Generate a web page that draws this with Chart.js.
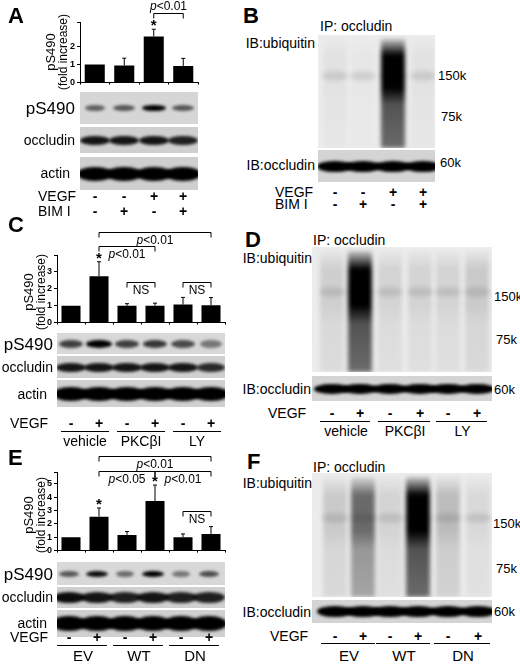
<!DOCTYPE html>
<html>
<head>
<meta charset="utf-8">
<script src="https://cdn.jsdelivr.net/npm/chart.js@4.4.1/dist/chart.umd.min.js"></script>
<style>
  body { margin: 0; background: #fff; font-family: "Liberation Sans", Arial, sans-serif; }
  #page { position: relative; width: 520px; height: 665px; overflow: hidden; }
  .t { position: absolute; white-space: nowrap; color: #000; line-height: 1; z-index: 2; }
  .blot { position: absolute; overflow: hidden; }
  .band { position: absolute; border-radius: 50%; background: #000; filter: blur(1.5px); }
  .smear { position: absolute; filter: blur(2px); }
  .uline { position: absolute; height: 1px; background: #000; }
</style>
</head>
<body>
<div id="page"></div>
<script>
// ---- data -----------------------------------------------------------------
const lanesA = ['1', '2', '3', '4'];
const valuesA = [1.0, 0.95, 2.55, 0.92];
const errorsA = [0, 0.4, 0.4, 0.42];
const starsA = [false, false, true, false];
const bracketsA = [{ from: 2, to: 3, y: 3.84, label: 'p<0.01', above: true }];

const lanesC = ['1', '2', '3', '4', '5', '6'];
const valuesC = [1.0, 2.75, 1.0, 1.0, 1.07, 1.03];
const errorsC = [0, 0.85, 0.12, 0.15, 0.42, 0.45];
const starsC = [false, true, false, false, false, false];
const bracketsC = [
    { from: 1, to: 5, y: 5.37, label: 'p<0.01' },
    { from: 1, to: 3, y: 4.52, label: 'p<0.01' },
    { from: 2, to: 3, y: 2.43, label: 'NS' },
    { from: 4, to: 5, y: 2.43, label: 'NS' }
];

const lanesE = ['1', '2', '3', '4', '5', '6'];
const valuesE = [1.0, 2.55, 1.18, 3.72, 1.0, 1.25];
const errorsE = [0, 0.65, 0.25, 1.2, 0.25, 0.55];
const starsE = [false, true, false, true, false, false];
const bracketsE = [
    { from: 1, to: 5, y: 7.13, label: 'p<0.01' },
    { from: 1, to: 3, y: 6.01, label: 'p<0.05' },
    { from: 3, to: 5, y: 6.01, label: 'p<0.01' },
    { from: 4, to: 5, y: 3.0, label: 'NS' }
];

// band intensities per lane
const pS490A = [0.55, 0.6, 1.0, 0.6];
const pS490C = [0.7, 1.0, 0.7, 0.75, 0.65, 0.45];
const pS490E = [0.6, 0.95, 0.5, 1.0, 0.45, 0.65];
const ubiqB = [0.04, 0.02, 1.0, 0.04];
const ubiqD = [0.12, 1.0, 0.1, 0.1, 0.1, 0.14];
const ubiqF = [0.14, 0.55, 0.1, 1.0, 0.2, 0.08];

const page = document.getElementById('page');

function text(str, x, y, size, opts = {}) {
    const d = document.createElement('div');
    d.className = 't';
    d.innerHTML = str;
    d.style.left = x + 'px';
    d.style.top = y + 'px';
    d.style.fontSize = size + 'px';
    if (opts.bold) d.style.fontWeight = 'bold';
    const tx = opts.align === 'right' ? '-100%' : opts.align === 'center' ? '-50%' : '0';
    d.style.transform = `translate(${tx}, -50%)` + (opts.rotate ? ' rotate(-90deg)' : '');
    page.appendChild(d);
    return d;
}

function line(x1, x2, y) {
    const d = document.createElement('div');
    d.className = 'uline';
    d.style.left = x1 + 'px';
    d.style.width = (x2 - x1) + 'px';
    d.style.top = y + 'px';
    page.appendChild(d);
}

function blot(x, y, w, h, lanes, levels, bg, bandH, bandW) {
    const b = document.createElement('div');
    b.className = 'blot';
    Object.assign(b.style, { left: x + 'px', top: y + 'px', width: w + 'px', height: h + 'px', background: bg });
    lanes.forEach((lx, i) => {
        const s = document.createElement('div');
        s.className = 'band';
        const bw = bandW * (0.75 + 0.35 * levels[i]);
        Object.assign(s.style, {
            left: (lx - x - bw / 2) + 'px', width: bw + 'px',
            top: (h / 2 - bandH / 2) + 'px', height: bandH + 'px',
            opacity: levels[i]
        });
        b.appendChild(s);
    });
    page.appendChild(b);
}

function smearBlot(x, y, w, h, lanes, levels) {
    const b = document.createElement('div');
    b.className = 'blot';
    Object.assign(b.style, { left: x + 'px', top: y + 'px', width: w + 'px', height: h + 'px', background: '#ececec' });
    lanes.forEach((lx, i) => {
        const s = document.createElement('div');
        s.className = 'smear';
        const a = levels[i];
        Object.assign(s.style, {
            left: (lx - x - 12) + 'px', width: '24px', top: '4px', height: (h - 4) + 'px',
            background: `linear-gradient(to bottom, rgba(0,0,0,${0.15 * a}) 0%, rgba(0,0,0,${a}) 15%, rgba(0,0,0,${a}) 45%, rgba(0,0,0,${0.65 * a}) 60%, rgba(0,0,0,${0.55 * a}) 100%)`
        });
        b.appendChild(s);
        const faint = document.createElement('div');
        faint.className = 'smear';
        Object.assign(faint.style, {
            left: (lx - x - 13) + 'px', width: '26px', top: (h * 0.32) + 'px', height: '10px',
            background: 'rgba(0,0,0,0.1)', borderRadius: '50%'
        });
        b.appendChild(faint);
    });
    page.appendChild(b);
}

// ---- error bars, stars and brackets ---------------------------------------
const annotPlugin = {
    id: 'annot',
    afterDatasetsDraw(chart, args, opts) {
        const { ctx, scales: { x, y } } = chart;
        ctx.save();
        ctx.strokeStyle = '#000';
        ctx.fillStyle = '#000';
        ctx.lineWidth = 1;
        opts.values.forEach((v, i) => {
            const px = x.getPixelForValue(i);
            const top = y.getPixelForValue(v + opts.errors[i]);
            if (opts.errors[i] > 0) {
                ctx.beginPath();
                ctx.moveTo(px, y.getPixelForValue(v));
                ctx.lineTo(px, top);
                ctx.moveTo(px - 2, top);
                ctx.lineTo(px + 2, top);
                ctx.stroke();
            }
            if (opts.stars[i]) {
                ctx.font = 'bold 15px "Liberation Sans", Arial';
                ctx.textAlign = 'center';
                ctx.textBaseline = 'alphabetic';
                ctx.fillText('*', px, top + 1);
            }
        });
        opts.brackets.forEach(b => {
            const x1 = x.getPixelForValue(b.from), x2 = x.getPixelForValue(b.to);
            const py = Math.round(y.getPixelForValue(b.y)) + 0.5;
            ctx.beginPath();
            ctx.moveTo(x1, py + 5);
            ctx.lineTo(x1, py);
            ctx.lineTo(x2, py);
            ctx.lineTo(x2, py + 5);
            ctx.stroke();
            const cx = (x1 + x2) / 2;
            ctx.textBaseline = b.above ? 'bottom' : 'top';
            const ty = b.above ? py - 1 : py + 2;
            if (b.label.startsWith('p')) {
                const rest = b.label.slice(1);
                ctx.font = '12px "Liberation Sans", Arial';
                const wr = ctx.measureText(rest).width;
                ctx.font = 'italic 12px "Liberation Sans", Arial';
                const wp = ctx.measureText('p').width;
                const sx = cx - (wr + wp) / 2;
                ctx.textAlign = 'left';
                ctx.fillText('p', sx, ty);
                ctx.font = '12px "Liberation Sans", Arial';
                ctx.fillText(rest, sx + wp, ty);
            } else {
                ctx.font = '12px "Liberation Sans", Arial';
                ctx.textAlign = 'center';
                ctx.fillText(b.label, cx, ty);
            }
        });
        ctx.restore();
    }
};

function barChart(canvasLeft, canvasTop, w, h, pad, labels, values, errors, stars, brackets, yMax, showMax) {
    const wrap = document.createElement('div');
    Object.assign(wrap.style, { position: 'absolute', left: canvasLeft + 'px', top: canvasTop + 'px', width: w + 'px', height: h + 'px' });
    const c = document.createElement('canvas');
    wrap.appendChild(c);
    page.appendChild(wrap);
    return new Chart(c.getContext('2d'), {
        type: 'bar',
        data: {
            labels: labels,
            datasets: [{ data: values, backgroundColor: '#000', borderWidth: 0, barPercentage: 0.68, categoryPercentage: 1 }]
        },
        options: {
            responsive: true,
            maintainAspectRatio: false,
            animation: false,
            layout: { padding: pad },
            plugins: {
                legend: { display: false },
                tooltip: { enabled: false },
                annot: { values, errors, stars, brackets }
            },
            scales: {
                x: {
                    ticks: { display: false },
                    grid: { display: true, drawOnChartArea: false, tickLength: 2, color: '#000', offset: true },
                    border: { color: '#000', width: 1 },
                    afterFit: s => { s.height = 2; }
                },
                y: {
                    min: 0,
                    max: yMax,
                    ticks: {
                        stepSize: 1,
                        color: '#000',
                        padding: 2,
                        font: { size: 9, weight: 'bold', family: '"Liberation Sans", Arial' },
                        callback: v => (v <= showMax ? v : '')
                    },
                    grid: { display: true, drawOnChartArea: false, tickLength: 3, color: '#000' },
                    border: { color: '#000', width: 1 },
                    afterFit: s => { s.width = 40; }
                }
            }
        },
        plugins: [annotPlugin]
    });
}

// ---- panel A ----------------------------------------------------------------
text('A', 8, 16, 22, { bold: true });
barChart(0, 0, 210, 90, { left: 40, top: 22, bottom: 2, right: 12 }, lanesA, valuesA, errorsA, starsA, bracketsA, 3.35, 3);
text('pS490', 50, 52, 13, { align: 'center', rotate: true });
text('(fold increase)', 63, 52, 12, { align: 'center', rotate: true });
const lanesAx = [95, 124, 154, 183];
blot(80, 92, 118, 32, lanesAx, pS490A, '#d6d6d6', 6, 22);
blot(80, 127, 118, 26, lanesAx, [0.9, 0.9, 0.9, 0.85], '#cfcfcf', 9, 28);
blot(80, 157, 118, 33, lanesAx, [1, 1, 1, 1], '#cfcfcf', 14, 32);
text('pS490', 75, 108, 17, { align: 'right' });
text('occludin', 75, 140, 14, { align: 'right' });
text('actin', 70, 173, 14, { align: 'right' });
text('VEGF', 38, 196, 14);
text('BIM I', 38, 211, 14);
['-', '-', '+', '+'].forEach((s, i) => text(s, lanesAx[i], 196, 14, { align: 'center', bold: true }));
['-', '+', '-', '+'].forEach((s, i) => text(s, lanesAx[i], 211, 14, { align: 'center', bold: true }));

// ---- panel B ----------------------------------------------------------------
text('B', 243, 16, 22, { bold: true });
text('IP: occludin', 320, 26, 14);
text('IB:ubiquitin', 315, 43, 14, { align: 'right' });
const lanesBx = [335, 363, 393, 423];
smearBlot(318, 35, 117, 113, lanesBx, ubiqB);
blot(318, 150, 117, 32, lanesBx, [1, 1, 1, 1], '#d4d4d4', 11, 32);
text('IB:occludin', 315, 165, 14, { align: 'right' });
text('150k', 438, 75, 13);
text('75k', 441, 116, 13);
text('60k', 440, 162, 13);
text('VEGF', 275, 192, 14);
text('BIM I', 275, 204, 14);
['-', '-', '+', '+'].forEach((s, i) => text(s, lanesBx[i], 192, 14, { align: 'center', bold: true }));
['-', '+', '-', '+'].forEach((s, i) => text(s, lanesBx[i], 204, 14, { align: 'center', bold: true }));

// ---- panel C ----------------------------------------------------------------
text('C', 8, 225, 22, { bold: true });
barChart(0, 224, 235, 106, { left: 17, top: 31, bottom: 1, right: 10 }, lanesC, valuesC, errorsC, starsC, bracketsC, 4, 3);
text('pS490', 28, 292, 13, { align: 'center', rotate: true });
text('(fold increase)', 41, 292, 12, { align: 'center', rotate: true });
const lanesCx = [71, 99, 127, 155, 183, 211];
blot(57, 333, 168, 21, lanesCx, pS490C, '#d8d8d8', 8, 24);
blot(57, 356, 168, 22, lanesCx, [0.9, 0.9, 0.9, 0.9, 0.9, 0.8], '#d0d0d0', 9, 28);
blot(57, 380, 168, 27, lanesCx, [1, 1, 1, 1, 1, 1], '#d0d0d0', 14, 32);
text('pS490', 53, 344, 17, { align: 'right' });
text('occludin', 53, 367, 14, { align: 'right' });
text('actin', 47, 394, 14, { align: 'right' });
text('VEGF', 10, 423, 14);
['-', '+', '-', '+', '-', '+'].forEach((s, i) => text(s, lanesCx[i], 423, 14, { align: 'center', bold: true }));
[['vehicle', 0], ['PKCβI', 2], ['LY', 4]].forEach(([g, i]) => {
    line(lanesCx[i] - 10, lanesCx[i + 1] + 10, 431);
    text(g, (lanesCx[i] + lanesCx[i + 1]) / 2, 441, 14, { align: 'center' });
});

// ---- panel D ----------------------------------------------------------------
text('D', 245, 240, 22, { bold: true });
text('IP: occludin', 313, 240, 14);
text('IB:ubiquitin', 312, 258, 14, { align: 'right' });
const lanesDx = [332, 360, 390, 420, 448, 477];
smearBlot(312, 247, 180, 125, lanesDx, ubiqD);
blot(312, 376, 180, 25, lanesDx, [1, 1, 1, 1, 1, 1], '#d4d4d4', 10, 32);
text('IB:occludin', 311, 389, 14, { align: 'right' });
text('150k', 494, 296, 13);
text('75k', 496, 339, 13);
text('60k', 494, 389, 13);
text('VEGF', 268, 413, 14);
['-', '+', '-', '+', '-', '+'].forEach((s, i) => text(s, lanesDx[i], 413, 14, { align: 'center', bold: true }));
[['vehicle', 0], ['PKCβI', 2], ['LY', 4]].forEach(([g, i]) => {
    line(lanesDx[i] - 12, lanesDx[i + 1] + 10, 421);
    text(g, (lanesDx[i] + lanesDx[i + 1]) / 2, 431, 14, { align: 'center' });
});

// ---- panel E ----------------------------------------------------------------
text('E', 8, 458, 22, { bold: true });
barChart(0, 440, 235, 118, { left: 17, top: 32, bottom: 0, right: 10 }, lanesE, valuesE, errorsE, starsE, bracketsE, 5.9, 5);
text('pS490', 28, 515, 13, { align: 'center', rotate: true });
text('(fold increase)', 41, 515, 12, { align: 'center', rotate: true });
const lanesEx = [69, 97, 125, 153, 181, 209];
blot(57, 562, 168, 23, lanesEx, pS490E, '#d8d8d8', 6, 20);
blot(57, 587, 168, 21, lanesEx, [0.95, 0.9, 0.85, 0.9, 0.85, 0.85], '#d0d0d0', 11, 30);
blot(57, 610, 168, 27, lanesEx, [1, 1, 1, 1, 1, 1], '#d0d0d0', 15, 32);
text('pS490', 53, 574, 17, { align: 'right' });
text('occludin', 53, 597, 14, { align: 'right' });
text('actin', 47, 623, 14, { align: 'right' });
text('VEGF', 10, 637, 14);
['-', '+', '-', '+', '-', '+'].forEach((s, i) => text(s, lanesEx[i], 637, 14, { align: 'center', bold: true }));
[['EV', 0], ['WT', 2], ['DN', 4]].forEach(([g, i]) => {
    line(lanesEx[i] - 12, lanesEx[i + 1] + 10, 645);
    text(g, (lanesEx[i] + lanesEx[i + 1]) / 2, 655, 15, { align: 'center' });
});

// ---- panel F ----------------------------------------------------------------
text('F', 247, 462, 22, { bold: true });
text('IP: occludin', 313, 467, 14);
text('IB:ubiquitin', 312, 483, 14, { align: 'right' });
const lanesFx = [335, 363, 390, 418, 448, 478];
smearBlot(312, 473, 180, 124, lanesFx, ubiqF);
blot(312, 600, 180, 23, lanesFx, [1, 1, 1, 1, 1, 1], '#d4d4d4', 11, 32);
text('IB:occludin', 311, 612, 14, { align: 'right' });
text('150k', 493, 523, 13);
text('75k', 496, 568, 13);
text('60k', 494, 611, 13);
text('VEGF', 270, 636, 14);
['-', '+', '-', '+', '-', '+'].forEach((s, i) => text(s, lanesFx[i], 636, 14, { align: 'center', bold: true }));
[['EV', 0], ['WT', 2], ['DN', 4]].forEach(([g, i]) => {
    line(lanesFx[i] - 14, lanesFx[i + 1] + 12, 643);
    text(g, (lanesFx[i] + lanesFx[i + 1]) / 2, 655, 15, { align: 'center' });
});
</script>
</body>
</html>
